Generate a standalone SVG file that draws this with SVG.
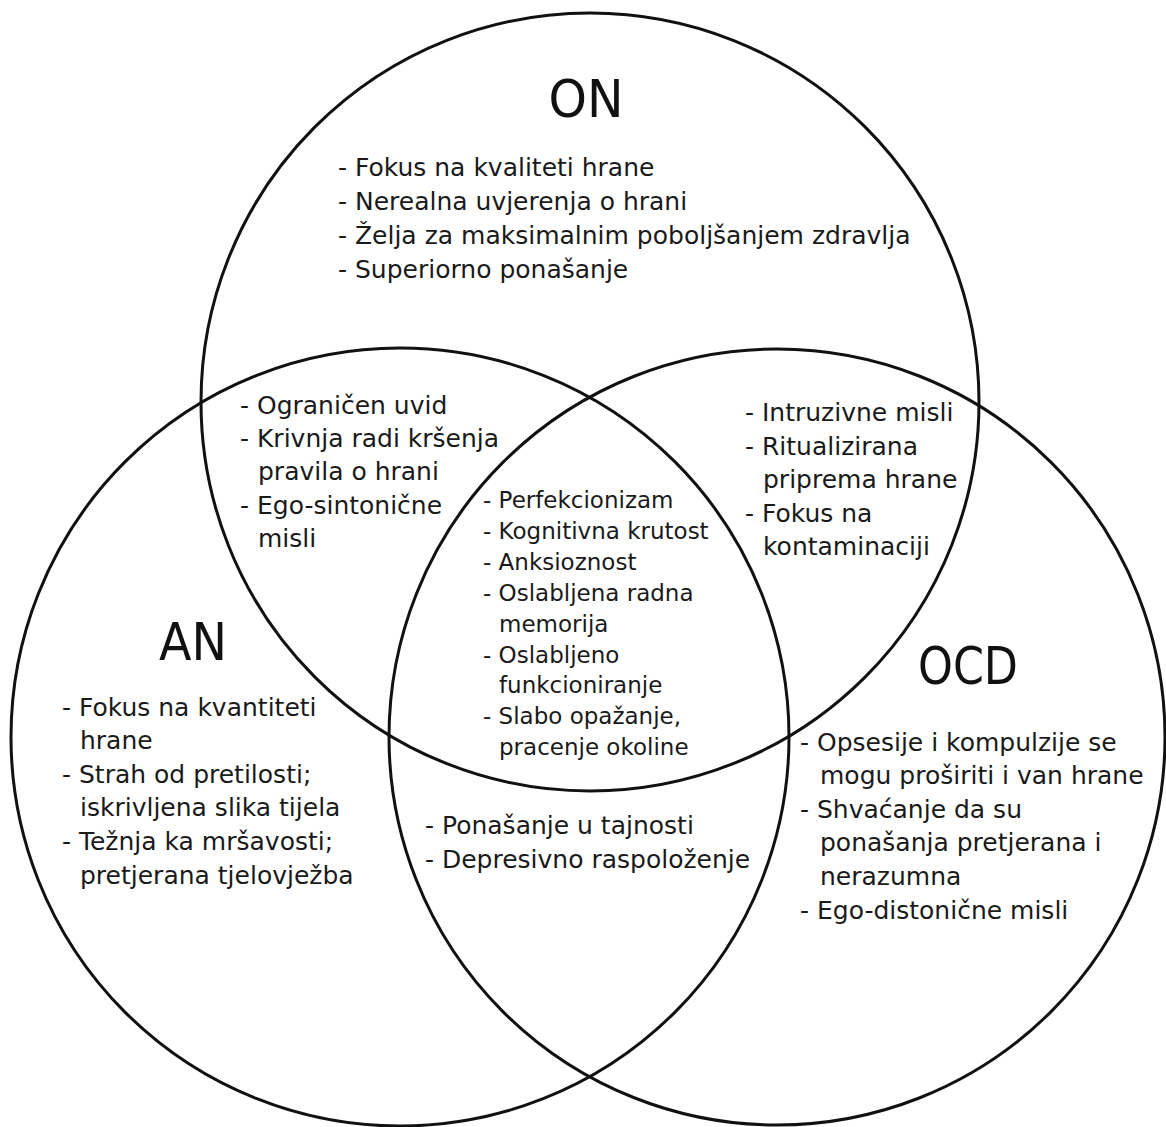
<svg xmlns="http://www.w3.org/2000/svg" width="1166" height="1127" viewBox="0 0 1166 1127">
<style>
.c{fill:none;stroke:#111;stroke-width:3}
.t{font-family:"DejaVu Sans","Verdana",sans-serif;font-size:25px;fill:#1a1a1a}
.s{font-family:"DejaVu Sans","Verdana",sans-serif;font-size:23px;fill:#1a1a1a}
.h{font-family:"DejaVu Sans","Tahoma",sans-serif;font-size:52px;fill:#111;text-anchor:middle}
</style>
<rect width="1166" height="1127" fill="#fff"/>
<g id="circles">
<circle id="on-circle" class="c" cx="590" cy="402" r="389"/>
<circle id="an-circle" class="c" cx="400" cy="737" r="389"/>
<circle id="ocd-circle" class="c" cx="777" cy="737" r="388"/>
</g>
<g id="on">
<text class="h" x="586" y="117" textLength="75" lengthAdjust="spacingAndGlyphs">ON</text>
<text class="t" x="338" y="176">- Fokus na kvaliteti hrane</text>
<text class="t" x="338" y="210">- Nerealna uvjerenja o hrani</text>
<text class="t" x="338" y="244">- Želja za maksimalnim poboljšanjem zdravlja</text>
<text class="t" x="338" y="278">- Superiorno ponašanje</text>
</g>
<g id="on-an">
<text class="t" x="240" y="414">- Ograničen uvid</text>
<text class="t" x="240" y="447">- Krivnja radi kršenja</text>
<text class="t" x="258" y="480">pravila o hrani</text>
<text class="t" x="240" y="514">- Ego-sintonične</text>
<text class="t" x="258" y="547">misli</text>
</g>
<g id="on-ocd">
<text class="t" x="745" y="421">- Intruzivne misli</text>
<text class="t" x="745" y="455">- Ritualizirana</text>
<text class="t" x="763" y="488">priprema hrane</text>
<text class="t" x="745" y="522">- Fokus na</text>
<text class="t" x="763" y="555">kontaminaciji</text>
</g>
<g id="center">
<text class="s" x="483" y="508">- Perfekcionizam</text>
<text class="s" x="483" y="539">- Kognitivna krutost</text>
<text class="s" x="483" y="570">- Anksioznost</text>
<text class="s" x="483" y="601">- Oslabljena radna</text>
<text class="s" x="499" y="632">memorija</text>
<text class="s" x="483" y="663">- Oslabljeno</text>
<text class="s" x="499" y="693">funkcioniranje</text>
<text class="s" x="483" y="724">- Slabo opažanje,</text>
<text class="s" x="499" y="755">pracenje okoline</text>
</g>
<g id="an">
<text class="h" x="193" y="660" textLength="68" lengthAdjust="spacingAndGlyphs">AN</text>
<text class="t" x="62" y="716">- Fokus na kvantiteti</text>
<text class="t" x="80" y="749">hrane</text>
<text class="t" x="62" y="783">- Strah od pretilosti;</text>
<text class="t" x="80" y="816">iskrivljena slika tijela</text>
<text class="t" x="62" y="850">- Težnja ka mršavosti;</text>
<text class="t" x="80" y="884">pretjerana tjelovježba</text>
</g>
<g id="an-ocd">
<text class="t" x="425" y="834">- Ponašanje u tajnosti</text>
<text class="t" x="425" y="868">- Depresivno raspoloženje</text>
</g>
<g id="ocd">
<text class="h" x="968" y="684" textLength="100" lengthAdjust="spacingAndGlyphs">OCD</text>
<text class="t" x="800" y="751">- Opsesije i kompulzije se</text>
<text class="t" x="820" y="784">mogu proširiti i van hrane</text>
<text class="t" x="800" y="818">- Shvaćanje da su</text>
<text class="t" x="820" y="851">ponašanja pretjerana i</text>
<text class="t" x="820" y="885">nerazumna</text>
<text class="t" x="800" y="919">- Ego-distonične misli</text>
</g>
</svg>
